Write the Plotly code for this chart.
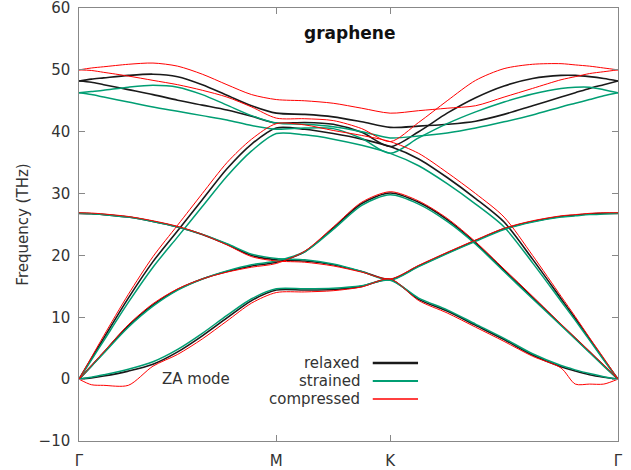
import plotly.graph_objects as go

# k-path positions (units of 2*pi/a): Gamma-M, M-K, K-Gamma
K_GRID = [0.0, 0.0361, 0.0722, 0.1443, 0.2165, 0.2887, 0.3608, 0.4330, 0.5052, 0.5774,
          0.6607, 0.7440, 0.8274, 0.9107,
          0.9940, 1.0774, 1.1607, 1.2440, 1.3274, 1.4107, 1.4524, 1.4940, 1.5357, 1.5774]
TICK_POS = [0.0, 0.5774, 0.9107, 1.5774]
TICK_LABELS = ["Γ", "M", "K", "Γ"]
SERIES = ["relaxed", "strained", "compressed"]

# relaxed (THz)
RELAXED_ZA = [0, 0.2, 0.5, 1.3, 2.4, 4.4, 7.0, 9.9, 12.7, 14.4, 14.4, 14.5, 15.0, 16.1,
              12.9, 11.0, 8.7, 6.4, 3.9, 2.0, 1.3, 0.7, 0.3, 0]
RELAXED_TA = [0, 2.1, 4.3, 8.6, 12.0, 14.5, 16.2, 17.4, 18.3, 18.9, 20.6, 24.4, 28.4, 30.1,
              28.6, 25.8, 22.0, 17.6, 13.2, 8.8, 6.6, 4.4, 2.2, 0]
RELAXED_ZO = [26.8, 26.75, 26.6, 26.2, 25.5, 24.6, 23.4, 21.8, 20.0, 19.3, 19.1, 18.5, 17.4, 16.1,
              18.3, 20.4, 22.4, 24.3, 25.5, 26.3, 26.5, 26.7, 26.8, 26.8]
RELAXED_LA = [0, 3.3, 6.6, 13.1, 19.0, 24.0, 29.0, 34.0, 38.0, 40.6, 40.4, 39.7, 38.8, 37.6,
              35.6, 32.6, 29.2, 25.4, 19.4, 13.0, 9.8, 6.5, 3.2, 0]
RELAXED_LO = [48.2, 48.0, 47.6, 46.8, 46.0, 45.1, 44.3, 43.5, 42.5, 41.4, 41.5, 41.2, 39.9, 37.6,
              40.0, 43.0, 45.5, 47.4, 48.6, 49.1, 49.1, 48.9, 48.6, 48.2]
RELAXED_TO = [48.2, 48.5, 48.7, 49.1, 49.3, 48.9, 47.6, 45.9, 44.2, 43.0, 42.8, 42.4, 41.6, 40.7,
              40.9, 41.2, 41.7, 42.8, 44.2, 45.6, 46.3, 47.0, 47.6, 48.2]

# strained (THz)
STRAINED_ZA = [0, 0.3, 0.7, 1.6, 2.8, 4.8, 7.4, 10.3, 13.0, 14.6, 14.6, 14.7, 15.1, 16.0,
               13.1, 11.2, 8.9, 6.6, 4.1, 2.2, 1.5, 0.9, 0.4, 0]
STRAINED_TA = [0, 2.1, 4.2, 8.4, 11.8, 14.4, 16.2, 17.5, 18.5, 19.1, 20.6, 24.2, 28.1, 29.8,
               28.3, 25.5, 21.8, 17.4, 13.0, 8.7, 6.5, 4.3, 2.1, 0]
STRAINED_ZO = [26.8, 26.75, 26.6, 26.2, 25.5, 24.6, 23.4, 21.9, 20.2, 19.5, 19.3, 18.6, 17.4, 16.0,
               18.2, 20.3, 22.3, 24.2, 25.4, 26.2, 26.4, 26.6, 26.7, 26.8]
STRAINED_LA = [0, 3.1, 6.2, 12.4, 18.1, 23.0, 27.9, 32.8, 36.9, 39.7, 39.5, 38.8, 37.8, 36.5,
               34.5, 31.6, 28.3, 24.6, 18.8, 12.6, 9.5, 6.3, 3.1, 0]
STRAINED_LO = [46.3, 46.0, 45.6, 44.8, 44.0, 43.3, 42.6, 41.9, 41.0, 40.4, 40.6, 40.5, 38.9, 36.5,
               39.0, 41.3, 43.2, 44.8, 46.1, 47.0, 47.2, 47.2, 46.8, 46.3]
STRAINED_TO = [46.3, 46.5, 46.7, 47.2, 47.5, 47.2, 46.0, 44.3, 42.6, 41.4, 41.2, 40.8, 40.0, 39.0,
               39.3, 39.8, 40.6, 41.6, 42.7, 44.0, 44.6, 45.2, 45.8, 46.3]

# compressed (THz)
COMPRESSED_ZA = [0, -0.9, -1.0, -1.0, 2.1, 4.0, 6.5, 9.4, 12.3, 14.0, 14.1, 14.3, 14.9, 16.2,
                 12.7, 10.7, 8.4, 6.1, 3.7, 1.8, -0.8, -0.8, -0.8, 0]
COMPRESSED_TA = [0, 2.2, 4.4, 8.8, 12.2, 14.6, 16.2, 17.3, 18.1, 18.7, 20.7, 24.6, 28.6, 30.3,
                 28.8, 26.0, 22.2, 17.8, 13.4, 8.9, 6.7, 4.5, 2.3, 0]
COMPRESSED_ZO = [26.9, 26.85, 26.7, 26.3, 25.6, 24.7, 23.4, 21.7, 19.8, 19.1, 18.9, 18.3, 17.3, 16.2,
                 18.4, 20.5, 22.5, 24.4, 25.6, 26.4, 26.6, 26.8, 26.9, 26.9]
COMPRESSED_LA = [0, 3.5, 7.0, 13.7, 19.8, 24.9, 30.0, 35.0, 38.8, 41.3, 41.1, 40.2, 39.4, 38.4,
                 36.5, 33.4, 30.0, 26.2, 20.0, 13.4, 10.1, 6.7, 3.4, 0]
COMPRESSED_LO = [50.0, 49.9, 49.6, 49.0, 48.3, 47.6, 46.7, 45.6, 44.0, 42.2, 42.1, 41.8, 40.5, 38.4,
                 41.5, 45.0, 48.3, 50.2, 50.9, 51.0, 50.8, 50.6, 50.3, 50.0]
COMPRESSED_TO = [50.0, 50.3, 50.5, 50.9, 51.1, 50.6, 49.3, 47.6, 46.0, 45.2, 45.0, 44.6, 43.8, 43.0,
                 43.4, 43.8, 44.2, 45.6, 47.0, 48.4, 48.9, 49.4, 49.7, 50.0]

BANDS = {
    "relaxed": [RELAXED_ZA, RELAXED_TA, RELAXED_ZO, RELAXED_LA, RELAXED_LO, RELAXED_TO],
    "strained": [STRAINED_ZA, STRAINED_TA, STRAINED_ZO, STRAINED_LA, STRAINED_LO, STRAINED_TO],
    "compressed": [COMPRESSED_ZA, COMPRESSED_TA, COMPRESSED_ZO, COMPRESSED_LA, COMPRESSED_LO, COMPRESSED_TO],
}
COLORS = {"relaxed": "#1a1a1a", "strained": "#009e73", "compressed": "#ff0000"}
WIDTHS = {"relaxed": 1.6, "strained": 1.5, "compressed": 1.0}
KEY_WIDTHS = {"relaxed": 2.6, "strained": 2.0, "compressed": 1.3}

FONT = "DejaVu Sans"
TXT = "#333333"

fig = go.Figure()
for name in SERIES:
    for band in BANDS[name]:
        fig.add_trace(go.Scatter(
            x=K_GRID, y=band, mode="lines", showlegend=False, name=name,
            line=dict(color=COLORS[name], width=WIDTHS[name], shape="spline", smoothing=0.8),
            hoverinfo="skip"))

# gnuplot-style key (text then sample line)
key_rows = [0.180, 0.1386, 0.097]
for name, yk in zip(SERIES, key_rows):
    fig.add_annotation(x=0.525, y=yk, xref="paper", yref="paper", text=name,
                       showarrow=False, xanchor="right", yanchor="middle",
                       font=dict(family=FONT, size=15, color=TXT))
    fig.add_shape(type="line", xref="paper", yref="paper", x0=0.545, x1=0.629, y0=yk, y1=yk,
                  line=dict(color=COLORS[name], width=KEY_WIDTHS[name]))

fig.add_annotation(x=0.501, y=0.942, xref="paper", yref="paper", text="<b>graphene</b>",
                   showarrow=False, xanchor="center", yanchor="middle",
                   font=dict(family=FONT, size=17, color="#111111"))
fig.add_annotation(x=0.150, y=0.143, xref="paper", yref="paper", text="ZA mode",
                   showarrow=False, xanchor="left", yanchor="middle",
                   font=dict(family=FONT, size=15, color=TXT))

axis_common = dict(showline=True, linecolor="#888888", linewidth=1, mirror="ticks",
                   ticks="inside", ticklen=6, tickcolor="#888888", showgrid=False,
                   zeroline=False, automargin=False, ticklabeloverflow="allow",
                   tickfont=dict(family=FONT, size=15, color=TXT))
fig.update_xaxes(range=[0, 1.5774], tickvals=TICK_POS, ticktext=TICK_LABELS,
                 ticklabelstandoff=6, **axis_common)
fig.update_yaxes(range=[-10, 60], dtick=10, tick0=0, ticksuffix="\u00a0",
                 title=dict(text="Frequency (THz)", font=dict(family=FONT, size=15, color=TXT), standoff=6),
                 **axis_common)

fig.update_layout(width=631, height=470, margin=dict(l=79, r=13, t=8, b=29),
                  paper_bgcolor="white", plot_bgcolor="white",
                  font=dict(family=FONT, color=TXT))
fig.write_html("out.html")
